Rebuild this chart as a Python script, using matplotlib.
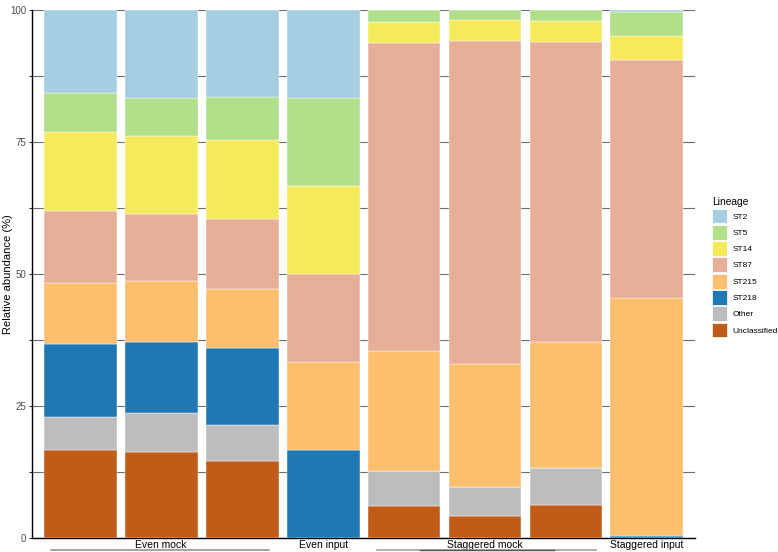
import matplotlib
matplotlib.use("Agg")
import matplotlib.pyplot as plt
from matplotlib.patches import Patch
from matplotlib.lines import Line2D
import matplotlib.transforms as mtransforms
import numpy as np

plt.rcParams['font.family'] = ['Liberation Sans', 'DejaVu Sans']

# Données (pourcentages), un échantillon par barre
samples = ["EM1", "EM2", "EM3", "EI", "SM1", "SM2", "SM3", "SI"]
group_labels = ["Even mock", "Even input", "Staggered mock", "Staggered input"]
group_pos = [1, 3, 5, 7]

unclassified = [16.7, 16.3, 14.6, 0, 6.1, 4.2, 6.3, 0]
other = [6.2, 7.4, 6.8, 0, 6.6, 5.5, 7.0, 0]
st218 = [13.8, 13.4, 14.6, 16.67, 0, 0, 0, 0.4]
st215 = [11.6, 11.5, 11.2, 16.67, 22.8, 23.3, 23.9, 45.0]
st87 = [13.6, 12.8, 13.3, 16.67, 58.3, 61.1, 56.8, 45.1]
st14 = [14.9, 14.8, 14.9, 16.67, 3.9, 4.0, 3.9, 4.5]
st5 = [7.5, 7.2, 8.2, 16.66, 2.3, 1.9, 2.1, 4.6]
st2 = [15.7, 16.6, 16.4, 16.66, 0, 0, 0, 0.4]

# ordre d'empilement (du bas vers le haut)
lineages = ["Unclassified", "Other", "ST218", "ST215", "ST87", "ST14", "ST5", "ST2"]
series = [unclassified, other, st218, st215, st87, st14, st5, st2]
colors = ["#c05b18", "#bdbdbd", "#1f78b4", "#fdbe6e", "#e7ae98", "#f4ea5c", "#b2df8a", "#a6cee3"]

fig = plt.figure(figsize=(7.78, 5.52), dpi=100)
ax = fig.add_axes([0.0407, 0.0254, 0.8532, 0.9565])

x = np.arange(len(samples))
bottom = np.zeros(len(samples))
for name, vals, col in zip(lineages, series, colors):
    vals = np.array(vals, dtype=float)
    ax.bar(x, vals, bottom=bottom, width=0.9, color=col, edgecolor="white",
           linewidth=0.3, zorder=3, label=name)
    bottom += vals

# Axes
ax.set_xlim(-0.6, 7.6)
ax.set_ylim(0, 100)
ax.set_yticks(np.arange(0, 100.1, 12.5))
ax.set_yticklabels(["0", "", "25", "", "50", "", "75", "", "100"])
ax.tick_params(axis="y", length=2.5, width=0.8, color="#333333", labelsize=7,
               labelcolor="#4d4d4d", pad=1.5)
ax.set_xticks(group_pos)
ax.set_xticklabels(group_labels, fontsize=7.5)
ax.tick_params(axis="x", length=0, pad=1.8)
ax.yaxis.grid(True, color="#6e6e6e", linewidth=0.8, zorder=0)
ax.set_axisbelow(True)
for s in ["top", "right"]:
    ax.spines[s].set_visible(False)
ax.spines["left"].set_linewidth(1.0)
ax.spines["bottom"].set_linewidth(1.0)
ax.set_ylabel("Relative abundance (%)", fontsize=8, va="center")
ax.yaxis.set_label_coords(-0.0357, 0.5)

# Soulignement des groupes
trans = mtransforms.blended_transform_factory(ax.transData, fig.transFigure)
fig.add_artist(Line2D([-0.358, 2.338], [0.0036, 0.0036], transform=trans,
                      color="#8c8c8c", linewidth=1.1))
fig.add_artist(Line2D([3.67, 6.37], [0.0036, 0.0036], transform=trans,
                      color="#9a9a9a", linewidth=1.1))
fig.add_artist(Line2D([4.2, 5.85], [0.0036, 0.0036], transform=trans,
                      color="#555555", linewidth=1.0))

# Légende
handles = [Patch(facecolor=c, edgecolor="white", linewidth=0.5, label=n)
           for n, c in zip(lineages[::-1], colors[::-1])]
leg = fig.legend(handles=handles, title="Lineage", loc="upper left",
                 bbox_to_anchor=(0.9148, 0.6431), frameon=False, fontsize=6,
                 title_fontsize=7.4, handlelength=1.84, handleheight=2.34,
                 labelspacing=0.19, handletextpad=0.68, borderpad=0,
                 borderaxespad=0, alignment="left")

fig.savefig("out.png", dpi=100)
